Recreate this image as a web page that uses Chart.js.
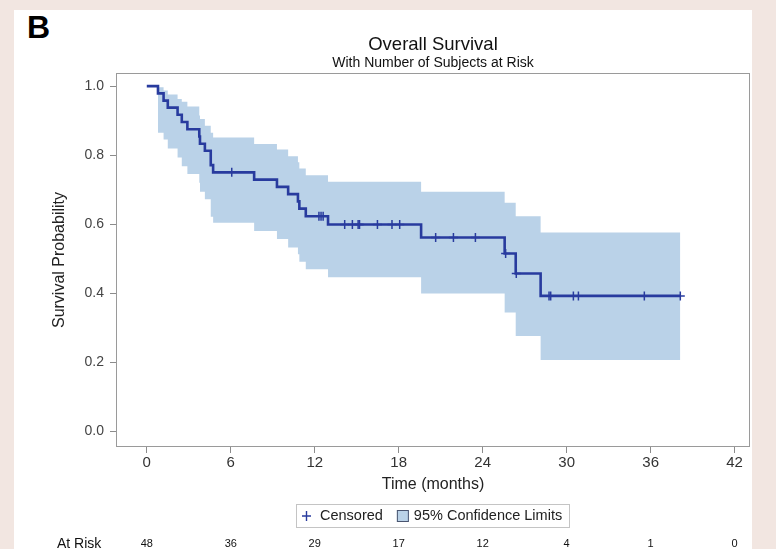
<!DOCTYPE html>
<html>
<head>
<meta charset="utf-8">
<script src="https://cdn.jsdelivr.net/npm/chart.js@4.4.1/dist/chart.umd.min.js"></script>
<style>
  html, body { margin: 0; padding: 0; }
  body { width: 776px; height: 549px; background: #f2e6e1; position: relative; overflow: hidden; }
  #panel { position: absolute; left: 14px; top: 10px; width: 738px; height: 539px; background: #fff; }
  #tag { position: absolute; left: 27px; top: 11px; font: bold 32px/32px "Liberation Sans", Arial, sans-serif; color: #000; }
  #km { position: absolute; left: 0; top: 0; }
</style>
</head>
<body>
<div id="panel"></div>
<div id="tag">B</div>
<canvas id="km" width="776" height="549"></canvas>
<script>
// Kaplan-Meier: time of each step and survival after it
const eventTimes = [0, 0.8, 1.2, 1.5, 2.2, 2.5, 2.9, 3.75, 3.8, 4.15, 4.57, 4.74, 7.67, 9.3, 10.1, 10.8, 10.9, 11.36, 12.95, 19.6, 25.57, 26.36, 28.14, 38.12];
const survival   = [1.0, 0.979, 0.958, 0.9375, 0.917, 0.896, 0.875, 0.854, 0.833, 0.8125, 0.771, 0.75, 0.729, 0.708, 0.687, 0.666, 0.645, 0.623, 0.599, 0.561, 0.515, 0.457, 0.392, 0.392];

// 95% confidence band
const ciTimes = [0.8, 1.2, 1.5, 2.2, 2.5, 2.9, 3.75, 3.8, 4.15, 4.57, 4.74, 7.67, 9.3, 10.1, 10.8, 10.9, 11.36, 12.95, 19.6, 25.57, 26.36, 28.14, 38.12];
const ciUpper = [0.997, 0.987, 0.976, 0.963, 0.955, 0.941, 0.915, 0.905, 0.885, 0.865, 0.851, 0.832, 0.816, 0.797, 0.779, 0.761, 0.742, 0.723, 0.694, 0.662, 0.623, 0.576, 0.576];
const ciLower = [0.865, 0.845, 0.819, 0.793, 0.768, 0.745, 0.72, 0.694, 0.672, 0.621, 0.604, 0.58, 0.557, 0.532, 0.513, 0.491, 0.469, 0.446, 0.399, 0.344, 0.276, 0.206, 0.206];

// censored subjects (time)
const censorTimes = [6.07, 12.3, 12.45, 12.6, 14.14, 14.69, 15.1, 15.2, 16.48, 17.52, 18.07, 20.64, 21.91, 23.48, 25.64, 26.4, 28.74, 28.86, 30.48, 30.84, 35.55, 38.12];

const xTicks = [0, 6, 12, 18, 24, 30, 36, 42];
const yTicks = [0, 0.2, 0.4, 0.6, 0.8, 1.0];
const atRisk = [48, 36, 29, 17, 12, 4, 1, 0];

const FONT = '"Liberation Sans", Arial, sans-serif';
const BLUE = '#283b9e';
const BAND = '#bad2e8';

// survival level of the step curve at time t
function levelAt(t) {
    let s = survival[0];
    for (let i = 0; i < eventTimes.length; i++) {
        if (eventTimes[i] <= t) s = survival[i];
    }
    return s;
}

const decor = {
    id: "decor",
    afterDraw(chart) {
        const { ctx, chartArea: a, scales: { x } } = chart;
        const cx = (a.left + a.right) / 2;
        ctx.save();

        // frame
        ctx.strokeStyle = "#9a9a9a";
        ctx.lineWidth = 1;
        ctx.strokeRect(a.left + 0.5, a.top + 0.5, a.right - a.left - 1, a.bottom - a.top - 1);

        // titles
        ctx.fillStyle = "#111";
        ctx.textAlign = "center";
        ctx.textBaseline = "middle";
        ctx.font = `18.5px ${FONT}`;
        ctx.fillText("Overall Survival", cx, 45);
        ctx.font = `14px ${FONT}`;
        ctx.fillText("With Number of Subjects at Risk", cx, 63);

        // legend
        ctx.font = `14.5px ${FONT}`;
        const t1 = "Censored", t2 = "95% Confidence Limits";
        const w1 = ctx.measureText(t1).width, w2 = ctx.measureText(t2).width;
        const total = 6 + 9 + 9 + w1 + 14 + 12 + 5 + w2 + 7;
        let lx = Math.round(cx - total / 2);
        const ly = 516;
        ctx.strokeStyle = "#c4c4c4";
        ctx.strokeRect(lx + 0.5, ly - 11.5, Math.round(total), 23);
        let px = lx + 6 + 4.5;
        ctx.strokeStyle = BLUE;
        ctx.lineWidth = 1.4;
        ctx.beginPath();
        ctx.moveTo(px - 4.5, ly); ctx.lineTo(px + 4.5, ly);
        ctx.moveTo(px, ly - 5); ctx.lineTo(px, ly + 5);
        ctx.stroke();
        ctx.textAlign = "left";
        ctx.fillStyle = "#222";
        let tx = lx + 6 + 9 + 9;
        ctx.fillText(t1, tx, ly);
        tx += w1 + 14;
        ctx.fillStyle = BAND;
        ctx.fillRect(tx, ly - 6, 12, 12);
        ctx.strokeStyle = "#4a5570";
        ctx.lineWidth = 1;
        ctx.strokeRect(tx + 0.5, ly - 5.5, 11, 11);
        ctx.fillStyle = "#222";
        ctx.fillText(t2, tx + 12 + 5, ly);

        // numbers at risk
        ctx.font = `14px ${FONT}`;
        ctx.fillStyle = "#111";
        ctx.textAlign = "left";
        ctx.fillText("At Risk", 57, 544);
        ctx.textAlign = "center";
        ctx.font = `11px ${FONT}`;
        xTicks.forEach((t, i) => ctx.fillText(String(atRisk[i]), x.getPixelForValue(t), 544));

        ctx.restore();
    }
};

new Chart(document.getElementById("km"), {
    type: "line",
    data: {
        datasets: [
            {
                label: "Censored",
                data: censorTimes.map((t) => ({ x: t, y: levelAt(t) })),
                showLine: false,
                pointStyle: "cross",
                pointRadius: 4.5,
                pointHoverRadius: 4.5,
                pointBorderWidth: 1.5,
                borderColor: BLUE,
                backgroundColor: BLUE,
            },
            {
                label: "Survival",
                data: eventTimes.map((t, i) => ({ x: t, y: survival[i] })),
                stepped: "before",
                borderColor: BLUE,
                borderWidth: 2.6,
                pointRadius: 0,
                fill: false,
            },
            {
                label: "Upper",
                data: ciTimes.map((t, i) => ({ x: t, y: ciUpper[i] })),
                stepped: "before",
                borderColor: "rgba(0,0,0,0)",
                borderWidth: 0,
                pointRadius: 0,
                fill: "+1",
                backgroundColor: BAND,
            },
            {
                label: "Lower",
                data: ciTimes.map((t, i) => ({ x: t, y: ciLower[i] })),
                stepped: "before",
                borderColor: "rgba(0,0,0,0)",
                borderWidth: 0,
                pointRadius: 0,
                fill: false,
            },
        ],
    },
    options: {
        responsive: false,
        animation: false,
        layout: { padding: { top: 73, left: 50, right: 26, bottom: 55 } },
        scales: {
            x: {
                type: "linear",
                min: -2.2,
                max: 43.1,
                afterBuildTicks: (ax) => { ax.ticks = xTicks.map((v) => ({ value: v })); },
                afterFit: (s) => { s.height = 47; },
                border: { display: false },
                grid: { drawOnChartArea: false, drawTicks: true, tickLength: 6, color: "#8c8c8c" },
                ticks: { padding: 1, color: "#333", font: { family: FONT, size: 15 } },
                title: { display: true, text: "Time (months)", color: "#222", font: { family: FONT, size: 16 }, padding: 0 },
            },
            y: {
                type: "linear",
                min: -0.046,
                max: 1.038,
                afterBuildTicks: (ax) => { ax.ticks = yTicks.map((v) => ({ value: v })); },
                afterFit: (s) => { s.width = 66; },
                border: { display: false },
                grid: { drawOnChartArea: false, drawTicks: true, tickLength: 6, color: "#8c8c8c" },
                ticks: { padding: 6, color: "#444", font: { family: FONT, size: 14 }, callback: (v) => v.toFixed(1) },
                title: { display: true, text: "Survival Probability", color: "#222", font: { family: FONT, size: 16 }, padding: 0 },
            },
        },
        plugins: { legend: { display: false }, tooltip: { enabled: false } },
    },
    plugins: [decor],
});
</script>
</body>
</html>
